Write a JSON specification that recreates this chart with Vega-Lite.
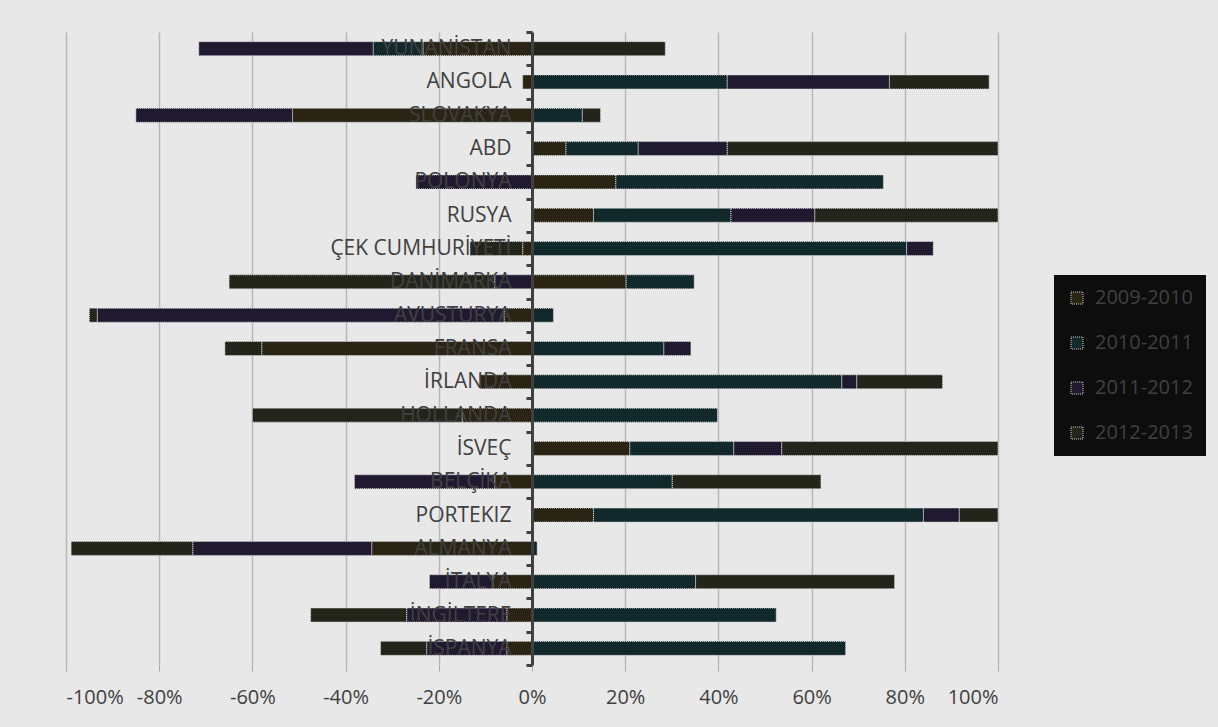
{
  "$schema": "https://vega.github.io/schema/vega-lite/v6.json",
  "autosize": {"type": "none"},
  "width": 932,
  "height": 633,
  "padding": {"left": 66, "top": 32, "right": 220, "bottom": 62},
  "background": "#e8e8e8",
  "config": {
    "view": {"stroke": null},
    "font": "Open Sans"
  },
  "data": {
    "values": [
      {"ulke": "YUNANİSTAN", "donem": "2009-2010", "deger": -0.234},
      {"ulke": "YUNANİSTAN", "donem": "2010-2011", "deger": -0.107},
      {"ulke": "YUNANİSTAN", "donem": "2011-2012", "deger": -0.374},
      {"ulke": "YUNANİSTAN", "donem": "2012-2013", "deger": 0.286},
      {"ulke": "ANGOLA", "donem": "2009-2010", "deger": -0.02},
      {"ulke": "ANGOLA", "donem": "2010-2011", "deger": 0.419},
      {"ulke": "ANGOLA", "donem": "2011-2012", "deger": 0.348},
      {"ulke": "ANGOLA", "donem": "2012-2013", "deger": 0.214},
      {"ulke": "SLOVAKYA", "donem": "2009-2010", "deger": -0.514},
      {"ulke": "SLOVAKYA", "donem": "2010-2011", "deger": 0.108},
      {"ulke": "SLOVAKYA", "donem": "2011-2012", "deger": -0.336},
      {"ulke": "SLOVAKYA", "donem": "2012-2013", "deger": 0.039},
      {"ulke": "ABD", "donem": "2009-2010", "deger": 0.073},
      {"ulke": "ABD", "donem": "2010-2011", "deger": 0.155},
      {"ulke": "ABD", "donem": "2011-2012", "deger": 0.191},
      {"ulke": "ABD", "donem": "2012-2013", "deger": 0.581},
      {"ulke": "POLONYA", "donem": "2009-2010", "deger": 0.18},
      {"ulke": "POLONYA", "donem": "2010-2011", "deger": 0.574},
      {"ulke": "POLONYA", "donem": "2011-2012", "deger": -0.249},
      {"ulke": "RUSYA", "donem": "2009-2010", "deger": 0.132},
      {"ulke": "RUSYA", "donem": "2010-2011", "deger": 0.295},
      {"ulke": "RUSYA", "donem": "2011-2012", "deger": 0.18},
      {"ulke": "RUSYA", "donem": "2012-2013", "deger": 0.393},
      {"ulke": "ÇEK CUMHURİYETİ", "donem": "2009-2010", "deger": -0.02},
      {"ulke": "ÇEK CUMHURİYETİ", "donem": "2010-2011", "deger": 0.804},
      {"ulke": "ÇEK CUMHURİYETİ", "donem": "2011-2012", "deger": 0.057},
      {"ulke": "ÇEK CUMHURİYETİ", "donem": "2012-2013", "deger": -0.113},
      {"ulke": "DANİMARKA", "donem": "2009-2010", "deger": 0.202},
      {"ulke": "DANİMARKA", "donem": "2010-2011", "deger": 0.146},
      {"ulke": "DANİMARKA", "donem": "2011-2012", "deger": -0.08},
      {"ulke": "DANİMARKA", "donem": "2012-2013", "deger": -0.57},
      {"ulke": "AVUSTURYA", "donem": "2009-2010", "deger": -0.06},
      {"ulke": "AVUSTURYA", "donem": "2010-2011", "deger": 0.046},
      {"ulke": "AVUSTURYA", "donem": "2011-2012", "deger": -0.873},
      {"ulke": "AVUSTURYA", "donem": "2012-2013", "deger": -0.017},
      {"ulke": "FRANSA", "donem": "2009-2010", "deger": -0.58},
      {"ulke": "FRANSA", "donem": "2010-2011", "deger": 0.283},
      {"ulke": "FRANSA", "donem": "2011-2012", "deger": 0.058},
      {"ulke": "FRANSA", "donem": "2012-2013", "deger": -0.079},
      {"ulke": "İRLANDA", "donem": "2009-2010", "deger": -0.112},
      {"ulke": "İRLANDA", "donem": "2010-2011", "deger": 0.665},
      {"ulke": "İRLANDA", "donem": "2011-2012", "deger": 0.032},
      {"ulke": "İRLANDA", "donem": "2012-2013", "deger": 0.184},
      {"ulke": "HOLLANDA", "donem": "2009-2010", "deger": -0.15},
      {"ulke": "HOLLANDA", "donem": "2010-2011", "deger": 0.398},
      {"ulke": "HOLLANDA", "donem": "2012-2013", "deger": -0.45},
      {"ulke": "İSVEÇ", "donem": "2009-2010", "deger": 0.21},
      {"ulke": "İSVEÇ", "donem": "2010-2011", "deger": 0.223},
      {"ulke": "İSVEÇ", "donem": "2011-2012", "deger": 0.103},
      {"ulke": "İSVEÇ", "donem": "2012-2013", "deger": 0.464},
      {"ulke": "BELÇİKA", "donem": "2009-2010", "deger": -0.08},
      {"ulke": "BELÇİKA", "donem": "2010-2011", "deger": 0.301},
      {"ulke": "BELÇİKA", "donem": "2011-2012", "deger": -0.301},
      {"ulke": "BELÇİKA", "donem": "2012-2013", "deger": 0.319},
      {"ulke": "PORTEKIZ", "donem": "2009-2010", "deger": 0.132},
      {"ulke": "PORTEKIZ", "donem": "2010-2011", "deger": 0.708},
      {"ulke": "PORTEKIZ", "donem": "2011-2012", "deger": 0.077},
      {"ulke": "PORTEKIZ", "donem": "2012-2013", "deger": 0.083},
      {"ulke": "ALMANYA", "donem": "2009-2010", "deger": -0.344},
      {"ulke": "ALMANYA", "donem": "2010-2011", "deger": 0.011},
      {"ulke": "ALMANYA", "donem": "2011-2012", "deger": -0.384},
      {"ulke": "ALMANYA", "donem": "2012-2013", "deger": -0.261},
      {"ulke": "İTALYA", "donem": "2009-2010", "deger": -0.084},
      {"ulke": "İTALYA", "donem": "2010-2011", "deger": 0.351},
      {"ulke": "İTALYA", "donem": "2011-2012", "deger": -0.136},
      {"ulke": "İTALYA", "donem": "2012-2013", "deger": 0.427},
      {"ulke": "İNGİLTERE", "donem": "2009-2010", "deger": -0.054},
      {"ulke": "İNGİLTERE", "donem": "2010-2011", "deger": 0.524},
      {"ulke": "İNGİLTERE", "donem": "2011-2012", "deger": -0.215},
      {"ulke": "İNGİLTERE", "donem": "2012-2013", "deger": -0.206},
      {"ulke": "İSPANYA", "donem": "2009-2010", "deger": -0.054},
      {"ulke": "İSPANYA", "donem": "2010-2011", "deger": 0.673},
      {"ulke": "İSPANYA", "donem": "2011-2012", "deger": -0.172},
      {"ulke": "İSPANYA", "donem": "2012-2013", "deger": -0.099}
    ]
  },
  "mark": {
    "type": "bar",
    "height": {"band": 0.42},
    "stroke": "#d8d8d8",
    "strokeWidth": 1,
    "strokeDash": [1, 1]
  },
  "encoding": {
    "y": {
      "field": "ulke",
      "type": "nominal",
      "sort": null,
      "scale": {"paddingInner": 0, "paddingOuter": 0},
      "axis": {
        "title": null,
        "offset": -466,
        "zindex": 1,
        "domainColor": "#404040",
        "domainWidth": 3,
        "tickBand": "extent",
        "tickColor": "#404040",
        "tickWidth": 3,
        "tickSize": 6,
        "labelPadding": 15,
        "labelLimit": 400,
        "labelFont": "Open Sans",
        "labelFontSize": 21,
        "labelColor": "#404040",
        "grid": false
      }
    },
    "x": {
      "field": "deger",
      "type": "quantitative",
      "stack": "zero",
      "scale": {"domain": [-1, 1], "nice": false},
      "axis": {
        "title": null,
        "values": [-1, -0.8, -0.6, -0.4, -0.2, 0, 0.2, 0.4, 0.6, 0.8, 1],
        "labelExpr": "(datum.value < 0 ? '-' : '') + format(abs(datum.value), '.0%')",
        "domain": false,
        "grid": true,
        "gridColor": "#b8b8b8",
        "gridWidth": 1.5,
        "tickColor": "#a6a6a6",
        "tickSize": 6,
        "labelPadding": 16,
        "labelFont": "Open Sans",
        "labelFontSize": 20,
        "labelColor": "#404040"
      }
    },
    "color": {
      "field": "donem",
      "type": "nominal",
      "scale": {
        "domain": ["2009-2010", "2010-2011", "2011-2012", "2012-2013"],
        "range": ["#2a2414", "#12292b", "#201a31", "#24251a"]
      },
      "legend": {
        "title": null,
        "orient": "none",
        "legendX": 988,
        "legendY": 243,
        "fillColor": "#0d0d0d",
        "padding": 13,
        "symbolType": "square",
        "symbolSize": 144,
        "symbolStrokeColor": "#d0d0d0",
        "symbolStrokeWidth": 1,
        "symbolDash": [1, 1],
        "labelFont": "Open Sans",
        "labelFontSize": 20,
        "labelColor": "#404040",
        "labelOffset": 8,
        "rowPadding": 25
      }
    }
  }
}
